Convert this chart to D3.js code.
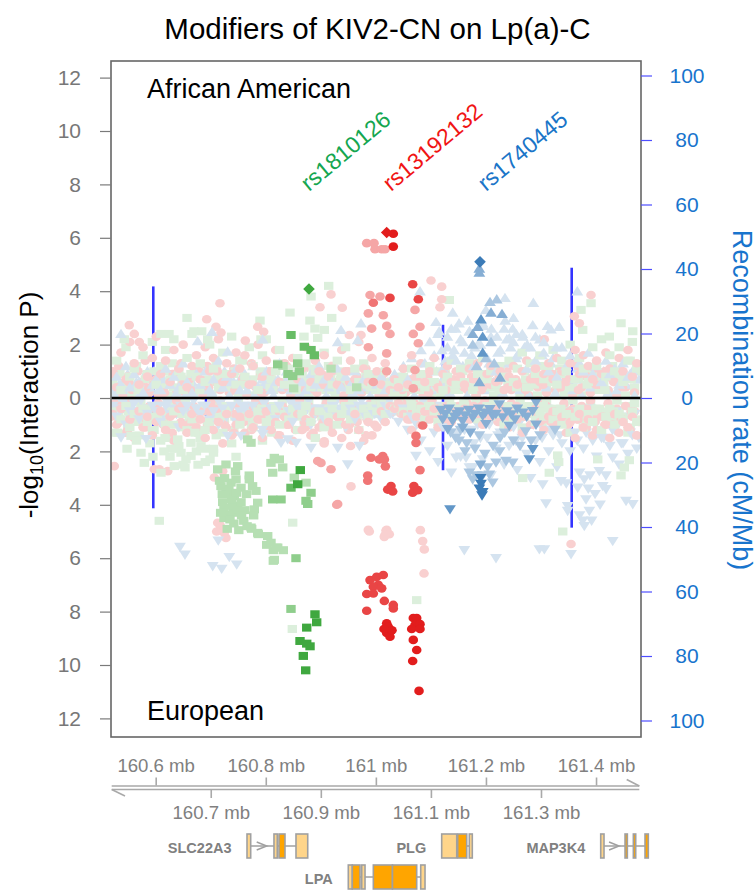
<!DOCTYPE html>
<html><head><meta charset="utf-8">
<script src="https://cdn.jsdelivr.net/npm/d3@7"></script>
<style>body{margin:0;background:#fff} text{font-family:"Liberation Sans",Arial,sans-serif}</style>
</head><body><svg id="c" width="756" height="890"></svg>
<script>
// ---------------- DATA ----------------
const title = "Modifiers of KIV2-CN on Lp(a)-C";
const leftTicks = [-12,-10,-8,-6,-4,-2,0,2,4,6,8,10,12];
const rightTicks = [-100,-80,-60,-40,-20,0,20,40,60,80,100];
const mbTicksTop = [160.6,160.8,161.0,161.2,161.4];
const mbTicksBottom = [160.7,160.9,161.1,161.3];
const snpLabels = [["rs1810126",160.8785,"#14a650"],["rs13192132",161.0275,"#f01414"],["rs1740445",161.2001,"#1a75c8"]];

// SNP positions (Mb) of the background band
const snpPos = [160.522,160.529,160.537,160.546,160.553,160.561,160.570,160.577,160.585,160.594,
160.601,160.609,160.618,160.626,160.633,160.642,160.650,160.657,160.666,160.674,
160.681,160.690,160.698,160.705,160.714,160.722,160.729,160.738,160.746,160.753,
160.762,160.770,160.777,160.786,160.794,160.801,160.810,160.818,160.825,160.834,
160.842,160.849,160.858,160.866,160.873,160.882,160.890,160.897,160.906,160.914,
160.921,160.930,160.938,160.945,160.954,160.962,160.969,160.978,160.986,160.993,
161.002,161.010,161.017,161.026,161.034,161.041,161.050,161.058,161.065,161.074,
161.082,161.089,161.098,161.106,161.113,161.122,161.130,161.137,161.146,161.154,
161.161,161.170,161.178,161.185,161.194,161.202,161.209,161.218,161.226,161.233,
161.242,161.250,161.257,161.266,161.274,161.281,161.290,161.298,161.305,161.314,
161.322,161.329,161.338,161.346,161.353,161.362,161.370,161.377,161.386,161.394,
161.401,161.410,161.418,161.425,161.434,161.442,161.449,161.458,161.466,161.474];
const bandAAgreen = [0.6,1.4,0.3,1.9,0.8,1.1,0.4,1.6,0.9,2.1, 0.5,1.2,1.8,0.7,2.2,1.0,0.3,1.5,2.4,0.8, 1.3,0.6,2.0,1.1,0.4,1.7,0.9,2.3,0.5,1.4, 0.8,1.9,1.2,0.3,1.6,2.2,0.7,1.0,1.8,0.5, 1.1,0.6,1.5,0.9,1.3,0.4,1.0,0.7,1.7,1.2, 0.5,1.4,0.8,1.9,0.3,1.1,0.6,1.3,0.9,0.4, 0.7,0.3,1.0,0.5,0.2,0.6,0.8,0.4,1.1,0.5, 0.9,0.4,1.2,0.6,1.0,0.3,0.8,1.4,0.5,1.1, 0.6,1.3,0.4,0.9,1.5,0.7,1.0,0.5,1.2,0.8, 1.4,0.6,1.1,1.7,0.4,1.3,0.9,1.6,0.7,1.2, 1.8,0.5,1.4,1.0,2.0,0.7,1.5,1.1,0.6,1.9, 1.2,2.2,0.8,1.6,1.0,1.9,0.6,1.4,2.1,1.1];
const bandAAred = [1.0,0.4,1.7,0.7,2.1,1.3,0.5,1.9,0.8,1.5, 2.3,0.9,1.4,0.6,1.8,1.1,2.0,0.4,1.2,1.6, 0.7,1.9,1.0,1.5,2.2,0.6,1.3,0.9,1.7,1.1, 1.6,0.5,1.2,2.0,0.8,1.4,1.0,1.8,0.6,1.3, 0.9,1.5,0.7,1.1,1.9,0.6,1.4,1.0,1.6,0.8, 1.2,0.5,1.8,1.0,1.4,0.7,2.1,1.1,0.6,1.5, 1.0,0.5,1.3,0.3,0.7,0.4,1.1,0.5,1.6,0.9, 1.3,0.6,1.0,1.5,0.4,0.9,1.2,0.6,1.0,0.8, 0.5,1.1,0.7,1.3,0.4,0.9,1.2,0.6,1.0,0.3, 0.8,1.2,0.5,1.0,1.4,0.7,1.1,0.6,0.9,1.3, 0.7,1.5,1.0,0.6,1.3,1.8,0.9,1.6,1.2,0.7, 1.4,0.9,1.7,1.1,0.6,1.5,1.0,1.8,0.8,1.3];
const bandAAblue = [0.3,0.8,0.5,1.2,0.4,0.9,0.6,0.2,1.0,0.5, 0.7,0.3,1.1,0.5,0.8,0.4,1.3,0.6,0.2,0.9, 0.5,1.0,0.3,0.7,1.4,0.4,0.8,0.6,1.1,0.3, 0.9,0.5,1.2,0.4,0.7,1.0,0.3,0.6,1.3,0.5, 0.8,0.4,1.0,0.6,0.3,0.9,0.5,1.2,0.7,0.4, 0.6,1.1,0.4,0.8,0.5,1.0,0.3,0.7,0.9,0.4, 0.5,0.8,0.3,0.6,0.9,0.4,1.2,0.7,1.5,1.0, 1.8,1.3,2.1,1.6,2.4,1.1,1.9,2.6,1.4,2.2, 1.7,2.5,1.2,2.0,2.8,1.5,2.3,1.0,1.8,2.6, 1.3,2.1,1.6,2.4,1.1,1.9,1.4,2.2,1.7,1.0, 1.5,0.8,1.9,1.2,1.6,0.7,1.3,1.0,1.7,0.9, 1.2,0.6,1.4,0.9,1.1,0.5,1.3,0.8,1.0,1.2];
const bandEAgreen = [0.5,1.3,0.8,0.3,1.1,0.6,1.4,0.4,0.9,1.2, 0.7,1.6,1.0,2.2,0.5,1.8,2.5,1.2,0.8,2.0, 1.5,2.4,0.9,1.9,2.7,1.3,0.6,1.7,2.2,1.0, 1.4,0.7,1.1,0.5,1.6,0.9,1.3,0.4,1.0,0.6, 0.8,0.4,1.2,0.6,0.3,0.9,1.5,0.5,1.1,0.7, 0.4,1.0,0.6,0.3,0.8,0.5,1.2,0.4,0.7,0.3, 0.5,0.2,0.6,0.3,0.4,0.2,0.5,0.7,0.3,0.6, 0.4,0.8,0.3,0.5,0.9,0.4,0.6,0.3,0.7,0.5, 0.3,0.6,0.4,0.8,0.5,0.3,0.7,0.4,0.6,1.0, 0.5,0.8,0.4,1.1,0.6,0.3,0.9,0.5,0.7,0.4, 0.8,0.5,1.0,0.6,1.3,0.7,0.4,1.1,0.6,0.9, 0.5,1.2,0.7,0.4,1.0,0.6,0.8,1.3,0.5,0.9];
const bandEAred = [0.6,1.0,0.4,1.3,0.8,1.5,0.5,1.1,0.7,1.4, 0.9,0.5,1.2,0.7,1.6,0.4,1.0,1.3,0.6,1.1, 0.8,1.5,0.5,1.2,0.9,1.7,0.6,1.4,1.0,0.7, 1.3,0.6,1.1,0.8,1.5,0.5,1.2,0.9,1.4,0.7, 1.0,1.6,0.6,1.2,0.8,1.4,0.5,1.1,1.7,0.9, 1.3,0.7,1.5,1.0,1.8,0.6,1.2,1.6,0.9,1.4, 1.1,0.5,0.9,0.3,0.4,0.2,0.6,0.8,1.2,0.7, 1.0,0.5,0.8,0.4,1.1,0.6,0.3,0.9,0.5,0.7, 0.4,0.8,0.3,0.6,1.0,0.5,0.7,0.4,0.9,0.6, 1.1,0.5,0.8,1.3,0.6,1.0,0.4,0.9,1.2,0.7, 0.5,1.0,0.7,1.3,0.9,1.5,0.6,1.1,0.8,1.4, 1.2,0.7,1.0,1.5,0.6,1.3,0.9,1.1,0.7,1.4];
const bandEAblue = [0.3,0.7,0.4,1.0,0.5,0.2,0.8,0.4,0.6,0.3, 0.5,0.9,0.3,0.6,0.4,1.1,0.5,0.3,0.7,0.4, 0.6,0.3,0.8,0.5,1.0,0.4,0.7,0.3,0.9,0.5, 0.4,0.7,0.3,0.6,1.2,0.5,0.4,0.8,0.3,0.6, 0.5,0.9,0.4,0.7,0.3,1.0,0.6,0.4,0.8,0.5, 0.3,0.7,0.5,1.1,0.4,0.8,0.3,0.6,0.9,0.5, 0.4,0.8,0.3,0.6,0.5,0.9,0.4,1.2,0.7,1.0, 1.6,0.9,2.0,1.3,2.4,1.1,1.8,2.8,1.4,2.2, 1.2,2.6,1.7,1.0,2.3,1.5,2.9,1.9,1.3,2.5, 1.8,1.1,2.7,1.5,2.1,3.0,1.6,2.4,1.2,2.0, 1.4,2.6,1.7,3.2,2.0,1.3,2.8,1.9,3.4,1.6, 2.2,1.5,2.9,1.8,1.2,2.5,1.7,2.1,1.4,1.9];

const snpPos2 = [160.526,160.541,160.557,160.573,160.589,160.605,160.622,160.638,160.654,160.669,160.686,160.702,160.717,160.734,160.750,160.766,160.782,160.797,160.814,160.830,160.846,160.862,160.878,160.893,160.910,160.926,160.942,160.958,160.974,160.990,161.006,161.022,161.038,161.054,161.070,161.086,161.102,161.118,161.134,161.150,161.166,161.182,161.198,161.214,161.230,161.246,161.262,161.278,161.294,161.310,161.326,161.342,161.358,161.374,161.390,161.406,161.422,161.438,161.454,161.470];
const lowAAgreen = [0.2,0.5,0.1,0.4,0.3,0.6,0.1,0.3,0.5,0.2, 0.4,0.1,0.6,0.3,0.2,0.5,0.1,0.4,0.3,0.6, 0.2,0.4,0.1,0.5,0.3,0.2,0.6,0.1,0.4,0.3, 0.5,0.2,0.1,0.4,0.3,0.6,0.2,0.1,0.5,0.3, 0.4,0.2,0.6,0.1,0.3,0.5,0.2,0.4,0.1,0.3, 0.6,0.2,0.4,0.1,0.5,0.3,0.2,0.6,0.1,0.4];
const lowAAred = [0.4,0.1,0.3,0.6,0.2,0.1,0.5,0.3,0.2,0.4, 0.1,0.6,0.3,0.2,0.5,0.1,0.4,0.2,0.6,0.3, 0.1,0.5,0.3,0.2,0.4,0.6,0.1,0.3,0.2,0.5, 0.1,0.4,0.3,0.2,0.6,0.1,0.4,0.3,0.2,0.5, 0.3,0.1,0.4,0.6,0.2,0.3,0.5,0.1,0.4,0.2, 0.3,0.6,0.1,0.4,0.2,0.5,0.3,0.1,0.4,0.2];
const lowAAblue = [0.1,0.3,0.5,0.2,0.4,0.3,0.6,0.2,0.1,0.5, 0.3,0.2,0.4,0.1,0.6,0.3,0.2,0.5,0.1,0.4, 0.3,0.2,0.6,0.4,0.1,0.3,0.5,0.2,0.4,0.1, 0.3,0.6,0.2,0.5,0.1,0.4,0.3,0.6,0.2,0.5, 0.1,0.4,0.3,0.6,0.2,0.5,0.3,0.1,0.6,0.4, 0.2,0.5,0.3,0.1,0.4,0.6,0.2,0.3,0.5,0.1];
const lowEAgreen = [0.3,0.1,0.5,0.2,0.4,0.6,0.2,0.3,0.1,0.5, 0.4,0.2,0.3,0.6,0.1,0.4,0.2,0.5,0.3,0.1, 0.6,0.3,0.2,0.4,0.1,0.5,0.3,0.2,0.4,0.6, 0.1,0.3,0.5,0.2,0.4,0.1,0.3,0.6,0.2,0.4, 0.5,0.1,0.3,0.2,0.6,0.4,0.1,0.3,0.5,0.2, 0.4,0.3,0.1,0.6,0.2,0.4,0.5,0.1,0.3,0.2];
const lowEAred = [0.2,0.4,0.1,0.5,0.3,0.2,0.6,0.1,0.4,0.3, 0.5,0.2,0.1,0.4,0.3,0.6,0.1,0.2,0.5,0.3, 0.4,0.1,0.3,0.6,0.2,0.4,0.1,0.5,0.3,0.2, 0.6,0.1,0.4,0.3,0.2,0.5,0.1,0.4,0.6,0.3, 0.2,0.5,0.1,0.4,0.3,0.2,0.6,0.4,0.1,0.3, 0.5,0.2,0.4,0.3,0.1,0.6,0.2,0.4,0.3,0.5];
const lowEAblue = [0.4,0.2,0.3,0.1,0.5,0.3,0.2,0.6,0.4,0.1, 0.3,0.5,0.2,0.4,0.1,0.3,0.6,0.2,0.4,0.5, 0.2,0.3,0.1,0.5,0.4,0.2,0.6,0.3,0.1,0.4, 0.5,0.2,0.3,0.6,0.4,0.1,0.5,0.3,0.7,0.4, 0.6,0.5,0.8,0.4,0.7,0.6,0.9,0.5,0.7,0.4, 0.6,0.8,0.5,0.7,0.4,0.6,0.8,0.5,0.7,0.6];

const snpPos3 = [160.533,160.549,160.565,160.581,160.597,160.614,160.630,160.646,160.661,160.678,160.694,160.710,160.725,160.742,160.758,160.774,160.790,160.806,160.822,160.838,160.854,160.870,160.886,160.902,160.918,160.934,160.950,160.966,160.982,160.998,161.014,161.030,161.046,161.062,161.078,161.094,161.110,161.126,161.142,161.158,161.174,161.190,161.206,161.222,161.238,161.254,161.270,161.286,161.302,161.318,161.334,161.350,161.366,161.382,161.398,161.414,161.430,161.446,161.462,161.478];
const midAAgreen = [0.9,0.5,1.2,0.7,1.0,0.4,1.3,0.8,0.6,1.1, 0.7,1.2,0.5,0.9,1.4,0.6,1.0,0.8,1.3,0.5, 0.9,0.6,1.1,0.4,0.8,1.0,0.5,0.7,0.9,0.4, 0.6,0.3,0.8,0.5,0.4,0.7,0.5,0.9,0.6,1.0, 0.7,0.9,0.5,1.1,0.8,0.6,1.0,0.7,1.2,0.9, 1.1,0.7,1.3,0.9,1.0,0.6,1.2,0.8,1.4,1.0];
const midAAred = [1.2,0.8,1.0,1.4,0.6,1.1,0.9,1.3,0.7,1.0, 1.2,0.6,0.9,1.1,0.7,1.3,0.8,1.0,0.6,1.2, 0.8,1.1,0.7,0.9,1.2,0.6,1.0,0.8,1.1,0.7, 0.9,0.5,0.7,0.4,0.6,0.8,0.5,0.9,0.7,0.6, 0.8,0.5,0.9,0.6,1.0,0.7,0.5,0.8,0.6,0.9, 1.0,0.7,1.2,0.8,1.1,0.9,0.7,1.0,0.8,1.2];
const midAAblue = [0.5,0.9,0.6,0.8,1.0,0.7,0.5,0.9,0.6,0.8, 0.4,0.7,1.0,0.6,0.8,0.5,0.9,0.6,0.7,1.0, 0.5,0.8,0.6,0.9,0.4,0.7,0.5,0.8,0.6,0.9, 0.7,0.5,0.8,0.6,0.9,0.7,1.0,1.4,1.8,1.2, 1.6,2.0,1.3,1.7,2.2,1.5,1.9,1.1,1.6,1.3, 1.0,0.8,1.1,0.9,0.7,1.0,0.8,1.1,0.9,0.7];
const midEAgreen = [0.7,1.0,0.6,0.9,1.2,0.8,1.5,1.1,0.9,1.3, 1.0,1.4,0.8,1.2,0.7,1.0,0.6,0.9,0.5,0.8, 0.6,0.9,0.5,0.7,0.4,0.6,0.5,0.7,0.4,0.6, 0.3,0.5,0.4,0.6,0.3,0.5,0.4,0.7,0.5,0.6, 0.4,0.7,0.5,0.6,0.8,0.5,0.7,0.6,0.9,0.7, 0.6,0.9,0.7,1.0,0.8,0.6,0.9,0.7,1.1,0.8];
const midEAred = [0.9,1.2,0.8,1.1,0.7,1.0,1.3,0.9,1.2,0.8, 1.1,0.7,1.0,1.3,0.9,1.2,0.8,1.1,1.4,1.0, 1.2,0.9,1.3,1.0,1.1,0.8,1.2,0.9,1.4,1.0, 0.7,0.5,0.6,0.8,0.5,0.7,0.6,0.8,0.5,0.7, 0.6,0.8,0.7,0.9,0.6,0.8,0.7,1.0,0.8,0.9, 0.7,1.0,0.8,1.1,0.9,0.7,1.0,0.8,1.2,0.9];
const midEAblue = [0.4,0.6,0.5,0.7,0.4,0.6,0.5,0.3,0.6,0.4, 0.5,0.7,0.4,0.6,0.3,0.5,0.7,0.4,0.6,0.5, 0.3,0.6,0.4,0.5,0.7,0.4,0.6,0.5,0.3,0.6, 0.4,0.6,0.5,0.7,0.5,0.8,0.6,1.0,1.3,0.9, 1.2,1.5,1.0,1.4,1.1,1.6,1.3,1.0,1.5,1.2, 1.4,1.1,1.6,1.3,1.0,1.5,1.2,1.7,1.3,1.5];

const snpPos4 = [160.519,160.535,160.551,160.568,160.583,160.600,160.616,160.632,160.648,160.664,160.680,160.696,160.712,160.728,160.744,160.760,160.776,160.792,160.808,160.824,160.840,160.856,160.872,160.888,160.904,160.920,160.936,160.952,160.968,160.984,161.000,161.016,161.032,161.048,161.064,161.080,161.096,161.112,161.128,161.144,161.160,161.176,161.192,161.208,161.224,161.240,161.256,161.272,161.288,161.304,161.320,161.336,161.352,161.368,161.384,161.400,161.416,161.432,161.448,161.464];
const extraAAred = [0.8,0.3,0.6,1.0,0.4,0.7,0.2,0.9,0.5,0.3, 0.7,0.4,1.0,0.6,0.3,0.8,0.5,0.2,0.9,0.6, 0.4,0.8,0.3,0.7,0.5,1.0,0.4,0.6,0.3,0.8, 0.5,0.2,0.6,0.3,0.7,0.4,0.2,0.5,0.3,0.6, 0.4,0.7,0.3,0.5,0.8,0.4,0.6,0.3,0.7,0.5, 0.9,0.4,0.7,0.3,0.8,0.5,1.0,0.6,0.4,0.8];
const extraAAgreen = [0.4,0.9,0.7,0.3,0.8,0.5,1.0,0.4,0.7,0.9, 0.3,0.6,0.8,0.4,1.0,0.5,0.7,0.9,0.4,0.6, 0.8,0.3,0.6,0.9,0.5,0.3,0.7,0.4,0.6,0.5, 0.3,0.6,0.4,0.2,0.5,0.3,0.6,0.4,0.7,0.3, 0.5,0.3,0.6,0.4,0.3,0.6,0.4,0.7,0.5,0.8, 0.6,0.9,0.4,0.7,0.5,0.8,0.3,0.9,0.6,0.7];
const extraEAred = [0.7,0.3,0.9,0.5,0.8,0.4,1.0,0.6,0.3,0.9, 0.5,0.8,0.4,1.1,0.6,0.9,0.3,0.7,1.0,0.5, 0.8,0.4,1.1,0.6,0.9,0.5,0.7,1.0,0.4,0.8, 0.3,0.6,0.4,0.2,0.5,0.3,0.6,0.4,0.3,0.5, 0.4,0.6,0.3,0.5,0.4,0.7,0.3,0.6,0.5,0.8, 0.6,0.9,0.5,0.8,0.4,0.7,1.0,0.6,0.8,0.5];
const extraEAgreen = [0.3,0.8,0.5,0.9,0.4,0.7,0.5,1.0,0.6,0.8, 0.4,0.9,0.6,0.3,0.7,0.5,0.8,0.4,0.6,0.3, 0.5,0.7,0.3,0.6,0.4,0.2,0.5,0.3,0.6,0.4, 0.2,0.4,0.3,0.5,0.2,0.4,0.3,0.5,0.3,0.4, 0.2,0.5,0.3,0.4,0.6,0.3,0.5,0.4,0.6,0.3, 0.7,0.4,0.6,0.5,0.8,0.4,0.7,0.5,0.9,0.6];

// notable SNPs: [position Mb, -log10 P, LD shade 0-4 (5 = lead SNP)]
const hitsAAgreen = [[160.8785,4.08,5],
[160.9143,4.2,0],[160.8822,3.8,0],[160.6569,3.0,0],[160.7895,2.9,0],[160.8440,3.2,0],[160.8803,2.9,0],[160.9063,2.55,0],[160.9198,3.0,0],[160.8894,2.6,0],[160.8694,2.3,0],[160.6096,2.4,0],[160.6242,2.4,0],[160.6696,2.5,0],[160.6836,2.5,0],[160.5429,2.2,0],[160.6945,2.2,0],[160.7913,2.2,0],[160.8943,2.25,0],
[161.4454,2.8,0],[161.4667,2.5,0],[161.4241,2.3,0],[161.3909,3.55,0],[161.3727,3.3,0],[161.3758,2.55,0],[161.1334,3.67,0],
[160.8458,2.36,3],[160.8700,1.92,3],[160.8822,1.8,3],[160.8882,1.6,3],[160.8580,1.3,2],[160.8217,1.26,2],[160.8489,0.82,2],[160.8609,1.0,2],[160.9185,1.1,1],[160.9652,0.4,1],[160.8507,0.36,1],[160.8313,1.2,1],[160.8404,0.9,2]];
const hitsAAred = [[161.0197,6.2,5],[161.0317,6.15,4],[161.0317,5.67,4],
[160.9834,5.8,1],[160.9966,5.8,1],[160.9984,5.57,1],[161.0106,5.57,1],[161.0166,5.57,1],
[161.0669,4.26,3],[161.1002,4.4,0],[161.1196,4.17,0],[161.0771,3.7,3],[160.7168,3.55,0],[160.9185,3.88,0],[160.8985,3.4,0],
[160.9894,3.86,1],[161.0075,3.8,1],[161.0257,3.75,3],[160.9954,3.57,2],[160.9863,3.17,1],[161.0135,3.1,1],[161.0197,2.7,1],[161.0257,2.4,1],[160.9924,2.6,1],[160.9863,1.9,1],[161.0197,1.67,1],[161.0197,1.0,1],[160.9954,0.6,1],
[161.0711,3.3,1],[161.0802,2.67,1],[161.0680,2.4,1],[161.0771,2.05,1],[161.0711,1.05,1],[161.0680,0.36,1],
[161.1196,3.7,0],[161.1165,3.4,0],[161.3909,3.86,0],[161.3606,3.06,0],[161.3697,2.8,0],[161.3060,2.2,0],
[160.5520,2.73,0],[160.5611,2.4,0],[160.5702,2.1,0],[160.6927,2.95,0],[160.7096,2.67,0],[160.7186,2.45,0],[160.7628,2.15,0],[160.7853,2.67,0],[160.7962,2.48,0],[160.9390,3.38,0],[160.9518,2.36,0],[160.9730,2.36,0]];
const hitsAAblue = [[161.1892,5.1,5],[161.1880,4.85,2],[161.1880,4.7,2],
[161.0802,4.0,0],[161.2074,3.6,1],[161.2196,3.7,1],[161.2346,3.75,0],[161.2861,3.57,0],[161.3660,4.0,0],
[161.2092,3.2,2],[161.2292,3.15,2],[161.1910,2.95,3],[161.1941,2.3,3],[161.1760,2.4,2],[161.1941,1.7,3],[161.1880,0.6,2],[161.2256,0.77,2],[161.2092,2.1,1],[161.1850,2.67,2],
[161.1830,1.2,1],[161.2000,1.5,1],[161.1760,2.0,1],[161.2150,1.3,1],
[161.1396,3.2,0],[161.1093,2.85,0],[161.1511,2.8,0],[161.1669,2.9,0],[161.2486,2.6,0],[161.2850,2.73,0],[161.3182,2.57,0],[161.3333,2.67,0],[161.2668,2.3,0],[161.2424,2.24,0],[161.3273,1.9,0],
[161.1200,1.8,0],[161.1300,2.3,0],[161.1450,2.6,0],[161.1580,2.1,0],[161.1700,2.5,0],[161.1800,1.9,0],[161.1950,2.7,0],[161.2100,2.6,0],[161.2200,2.3,0],[161.2350,2.9,0],[161.2450,1.9,0],[161.2550,2.4,0],[161.2750,2.0,0],[161.2900,2.3,0],[161.3050,2.1,0],[161.3120,2.7,0],[161.1150,2.5,0],[161.1400,1.6,0],[161.2000,3.3,0],[161.2500,3.0,0],
[160.5370,2.4,0],[160.6763,2.13,0],[160.7023,2.48,0],[160.7308,1.74,0],[160.7944,2.2,0],[160.9367,2.55,0],[160.9307,2.1,0],[160.9730,2.8,0],[160.9670,2.17,0]];
const hitsEAgreen = [[160.8458,7.9,2],[160.8894,8.1,4],[160.8925,8.4,4],[160.8744,8.6,4],[160.8622,9.1,4],[160.8744,9.2,4],[160.8804,9.3,4],[160.8682,9.66,4],[160.8725,10.2,4],[160.8482,8.65,0],
[160.8627,2.7,4],[160.8580,3.23,4],[160.8458,3.36,3],[160.8822,3.55,2],[160.8277,3.8,2],[160.8126,3.8,2],[160.8731,3.85,2],[160.8762,3.97,2],[160.8549,6.0,2],
[160.8137,5.7,1],[160.8198,5.6,1],[160.8318,5.7,1],[160.8017,5.5,1],[160.8137,6.1,1],[160.7864,5.1,1],[160.7744,4.9,1],[160.7410,4.3,1],
[160.8155,2.24,1],[160.8246,2.3,1],[160.8094,2.43,1],[160.8308,2.6,1],[160.8126,2.8,1],[160.8518,2.98,1],[160.8731,3.17,1],
[160.7186,3.3,1],[160.7368,3.17,1],[160.7459,3.05,1],[160.7550,3.36,1],[160.7277,3.55,1],[160.7428,3.67,1],[160.7217,3.9,1],[160.7399,4.04,1],[160.7490,4.17,1],[160.7308,4.36,1],[160.7822,3.48,1],[160.7853,3.92,1],[160.7791,4.17,1],[160.7732,4.85,1],[160.7853,5.05,1],[160.8035,5.17,1],[160.8095,5.42,1],[160.8217,5.6,1],[160.8155,6.06,1],[160.7672,1.55,1],[160.7732,1.68,1],[160.7277,2.49,1],[160.7490,2.55,1],[160.7126,2.67,1],[160.7701,3.05,1],
[160.7240,4.5,1],[160.7420,4.7,1],[160.7600,4.6,1],[160.7780,4.4,1],[160.7300,4.9,1],[160.7510,4.95,1],
[160.7160,3.1,1],[160.7250,3.0,1],[160.7330,3.4,1],[160.7210,3.6,1],[160.7380,3.8,1],[160.7470,3.55,1],[160.7550,3.9,1],[160.7620,4.2,1],[160.7650,3.6,1],[160.7240,4.1,1],[160.7350,4.55,1],[160.7180,4.3,1],[160.7560,4.4,1],[160.7660,4.8,1],[160.7700,2.9,1],[160.7760,3.3,1],[160.7450,2.75,1],
[160.6400,1.55,0],[160.6641,1.68,0],[160.6823,1.8,0],[160.6460,2.05,0],[160.6641,2.17,0],[160.6338,2.55,0],[160.6096,2.8,0],[160.5793,2.43,0],[160.5733,2.05,0],[160.5551,1.42,0],[160.5310,1.3,0],[160.6065,4.6,0],[160.8489,4.67,0],[160.6278,1.9,0],[160.6987,2.3,0],[160.6896,1.2,0],[160.6169,1.5,0],[160.6532,2.6,0],[160.6714,1.3,0],[160.5896,1.7,0],
[160.5950,2.2,0],[160.6150,2.0,0],[160.6350,1.9,0],[160.6550,2.3,0],[160.6770,2.5,0],[160.6900,1.9,0],[160.7050,2.05,0],[160.5650,1.6,0],[160.5480,1.9,0],
[161.4031,2.3,0],[161.3304,2.15,0],[161.3322,2.4,0],[161.2668,3.0,0],[161.3151,2.8,0],[161.4454,2.9,0],[161.4514,2.6,0],[161.4605,2.33,0],[161.3395,5.0,0],[161.0742,7.57,0]];
const hitsEAred = [[161.0197,8.44,4],[161.0226,8.57,4],[161.0257,8.76,4],[161.0197,8.8,4],[161.0257,8.94,4],[161.0293,8.7,4],[161.0148,8.65,4],
[161.0680,8.24,4],[161.0742,8.24,4],[161.0711,8.5,4],[161.0802,8.47,4],[161.0651,8.65,4],[161.0802,8.65,4],[161.0680,9.06,4],[161.0742,9.44,4],[161.0669,9.85,4],[161.0784,10.97,4],
[160.9894,6.82,3],[161.0015,6.7,3],[161.0135,6.63,3],[161.0044,7.0,3],[160.9954,7.07,3],[161.0106,7.13,3],[160.9834,7.34,3],[160.9954,7.32,3],[161.0154,7.6,3],[161.0317,7.75,3],[161.0317,7.88,3],[160.9834,7.97,3],
[161.0275,3.3,3],[161.0215,3.43,3],[161.0306,3.5,3],[161.0691,3.3,3],[161.0669,3.55,3],[161.0760,3.45,3],
[161.0126,2.17,2],[161.0064,2.3,2],[161.0155,2.3,2],[161.0173,2.56,2],[161.0802,2.7,2],[161.0729,1.68,2],[161.0729,1.42,2],[161.0851,1.03,2],[160.9852,2.9,2],[160.9852,3.1,2],[160.9912,2.24,2],[160.9289,4.0,1],[160.9307,3.97,1],
[160.8943,2.36,1],[160.9003,2.43,1],[160.9185,2.67,1],
[161.0184,4.96,0],[161.0244,5.1,0],[161.0153,5.2,0],[161.0808,4.95,0],[161.0851,5.36,0],[161.0880,5.67,0],[161.3546,5.47,0],[160.9863,4.94,0],[161.0197,4.94,0],[161.0166,5.13,0],[161.0875,6.57,0],
[160.7126,4.67,0],[160.7186,4.86,0],[160.7246,5.05,0],[160.7277,5.24,0],[160.7168,4.76,0],[160.7108,5.0,0],[160.9881,5.0,0],[160.5248,2.55,0],[160.5975,2.67,0],[160.6065,2.67,0],[160.6218,2.74,0],[160.7065,2.98,0],[160.7217,2.74,0],[160.9548,3.31,0],[160.9063,1.62,0]];
const hitsEAblue = [[161.1910,3.22,4],[161.1880,3.4,4],[161.1941,3.53,4],[161.1929,3.65,4],[161.1901,3.0,4],
[161.1347,4.17,3],[161.2788,2.3,3],[161.2850,1.92,3],
[161.1215,0.8,2],[161.1396,0.86,2],[161.1578,0.86,2],[161.1760,0.73,2],[161.1941,0.67,2],[161.2123,0.67,2],[161.2305,0.73,2],[161.1305,1.17,2],[161.1578,1.11,2],[161.2001,0.98,2],[161.2424,1.05,2],[161.2668,0.55,2],[161.2850,0.49,2],[161.2910,0.17,2],[161.2243,0.24,2],[161.2910,1.0,2],[161.1474,0.6,2],[161.2528,0.8,2],[161.1715,1.3,2],
[161.1180,0.45,2],[161.1260,0.6,2],[161.1330,0.4,2],[161.1430,0.7,2],[161.1520,0.5,2],[161.1620,0.65,2],[161.1690,0.45,2],[161.1800,0.6,2],[161.1870,0.4,2],[161.1990,0.55,2],[161.2070,0.42,2],[161.2180,0.6,2],[161.2380,0.5,2],[161.2460,0.62,2],[161.2570,0.4,2],[161.2740,0.7,2],
[161.1360,1.3,1],[161.1450,1.5,1],[161.1650,1.7,1],[161.1880,1.4,1],[161.2130,1.8,1],[161.2340,1.3,1],[161.2500,1.6,1],[161.2720,1.25,1],[161.2820,1.6,1],[161.1980,2.1,1],[161.2250,2.0,1],[161.1900,2.5,2],[161.2030,2.6,1],[161.1620,2.0,1],[161.1540,1.2,1],
[161.2183,2.42,1],[161.2365,2.36,1],[161.2486,2.42,1],[161.1698,2.8,1],[161.1820,2.9,1],[161.1941,2.9,1],[161.2061,2.87,1],[161.2123,3.17,1],[161.1760,3.05,1],[161.1511,1.6,1],[161.1802,1.9,1],[161.2256,1.5,1],[161.2619,1.8,1],[161.2983,1.4,1],[161.3255,1.2,1],
[161.1607,5.7,0],[161.2183,6.0,0],[161.2970,5.67,0],[161.3061,5.67,0],[161.3546,5.85,0],[161.4303,5.36,0],[161.3091,3.95,0],[161.3485,4.05,0],[161.3485,4.23,0],[161.3758,4.6,0],[161.3787,4.8,0],[161.3878,4.23,0],[161.3818,3.8,0],[161.4122,3.3,0],[161.4182,3.42,0],[161.4545,3.86,0],[161.4667,3.98,0],[161.3667,3.36,0],[161.3787,3.05,0],[161.3031,3.24,0],[161.3364,3.12,0],[161.4303,2.24,0],[161.4060,2.74,0],[161.0729,2.17,0],[161.1456,2.24,0],[161.1638,2.24,0],[161.1760,2.6,0],[161.3891,2.9,0],[161.3982,3.6,0],[161.3700,4.4,0],[161.3920,4.6,0],[161.4073,4.0,0],
[160.5370,1.48,0],[160.5824,1.54,0],[160.7308,1.42,0],[160.7550,1.42,0],[160.7944,1.36,0],[160.8277,1.68,0],[160.8398,1.55,0],[160.8549,1.68,0],[160.8822,1.87,0],[160.9307,1.87,0],[160.9700,1.8,0],[160.9489,2.49,0],[160.6441,5.58,0],[160.6532,5.87,0],[160.7036,6.3,0],[160.7199,6.4,0],[160.7337,5.96,0],[160.7472,6.24,0],[160.7137,5.34,0]];

// recombination rate (cM/Mb) at hotspots: [position, rate]
const recombAA = [[160.5956,34.6],[161.1220,22.7],[161.3558,40.4]];
const recombEA = [[160.5956,34.2],[160.6914,5.6],[161.1220,22.4],[161.3558,40.2]];

// genes
const genes = [
 {name:"SLC22A3",row:0,start:160.7659,end:160.8762,arrow:160.8017},
 {name:"PLG",row:0,start:161.1196,end:161.1752,arrow:null},
 {name:"MAP3K4",row:0,start:161.4085,end:161.4950,arrow:161.4418},
 {name:"LPA",row:1,start:160.9499,end:161.0893,arrow:null}];
// exons: [gene, start, end, coding(1)/UTR(0)]
const exons = [
 ["SLC22A3",160.7659,160.7726,0],["SLC22A3",160.8149,160.8209,0],["SLC22A3",160.8240,160.8349,1],["SLC22A3",160.8549,160.8762,0],
 ["PLG",161.1196,161.1469,0],["PLG",161.1487,161.1651,1],["PLG",161.1698,161.1752,0],
 ["MAP3K4",161.4085,161.4145,0],["MAP3K4",161.4527,161.4569,1],["MAP3K4",161.4678,161.4721,1],["MAP3K4",161.4890,161.4950,1],
 ["LPA",160.9499,160.9572,0],["LPA",160.9572,160.9712,1],["LPA",160.9743,160.9803,0],["LPA",160.9954,161.0302,1],["LPA",161.0302,161.0742,1],["LPA",161.0815,161.0893,0]];

// ---------------- DRAWING ----------------
const svg = d3.select("#c");
const X0=111, X1=641, Y0=61, Y1=737;
const x = d3.scaleLinear().domain([160.5188,161.4817]).range([X0,X1]);
const yP = d3.scaleLinear().domain([-12,12]).range([718.4,77.6]);
const yR = d3.scaleLinear().domain([-100,100]).range([720.5,75.5]);

const pal = {
  green:["#dcefdc","#b6dfb3","#8fce8c","#67bc65","#3fa83f","#3fa83f"],
  red:["#f9d0d0","#f5a6a6","#f07575","#e94545","#e21d1d","#e21d1d"],
  blue:["#d5e3f0","#abc7e1","#86aed4","#6297c8","#3b7bb7","#3b7bb7"]
};
const shapeOf = {green:"sq", red:"ci", blue:"tr"};

svg.append("text").attr("x",377.5).attr("y",39).attr("text-anchor","middle")
  .attr("font-size",29.5).attr("fill","#000").text(title);

svg.append("defs").append("clipPath").attr("id","pc").append("rect")
  .attr("x",X0).attr("y",Y0).attr("width",X1-X0).attr("height",Y1-Y0);
const plot = svg.append("g").attr("clip-path","url(#pc)");

// recombination lines
const recG = plot.append("g");
recombAA.forEach(d=>recG.append("line").attr("x1",x(d[0])).attr("x2",x(d[0]))
  .attr("y1",yR(0)).attr("y2",yR(d[1])).attr("stroke","#3434ff").attr("stroke-width",2.6));
recombEA.forEach(d=>recG.append("line").attr("x1",x(d[0])).attr("x2",x(d[0]))
  .attr("y1",yR(0)).attr("y2",yR(-d[1])).attr("stroke","#3434ff").attr("stroke-width",2.6));

// points
const pts = [];
function band(pos, vals, ser, sign, order){ pos.forEach((p,i)=>pts.push({pos:p,v:vals[i]*sign,ser,shade:0,ord:order+i*3})); }
band(snpPos2, lowAAgreen,"green",1,0); band(snpPos2, lowAAred,"red",1,1); band(snpPos2, lowAAblue,"blue",1,2);
band(snpPos2, lowEAgreen,"green",-1,0); band(snpPos2, lowEAred,"red",-1,1); band(snpPos2, lowEAblue,"blue",-1,2);
band(snpPos3, midAAblue,"blue",1,500); band(snpPos3, midAAgreen,"green",1,501); band(snpPos3, midAAred,"red",1,502);
band(snpPos3, midEAgreen,"green",-1,500); band(snpPos3, midEAblue,"blue",-1,501); band(snpPos3, midEAred,"red",-1,502);
band(snpPos4, extraAAgreen,"green",1,700); band(snpPos4, extraAAred,"red",1,701);
band(snpPos4, extraEAgreen,"green",-1,700); band(snpPos4, extraEAred,"red",-1,701);
band(snpPos, bandAAblue,"blue",1,1000); band(snpPos, bandAAgreen,"green",1,1001); band(snpPos, bandAAred,"red",1,1002);
band(snpPos, bandEAblue,"blue",-1,1000); band(snpPos, bandEAgreen,"green",-1,1001); band(snpPos, bandEAred,"red",-1,1002);
function hits(arr, ser, sign){ arr.forEach((d,i)=>pts.push({pos:d[0],v:d[1]*sign,ser,shade:d[2],ord:2000+i})); }
hits(hitsAAgreen,"green",1); hits(hitsAAred,"red",1); hits(hitsAAblue,"blue",1);
hits(hitsEAgreen,"green",-1); hits(hitsEAred,"red",-1); hits(hitsEAblue,"blue",-1);
pts.sort((a,b)=> (a.shade-b.shade) || (a.ord-b.ord));

function markerPath(d){
  if(d.shade===5) return "M0,-5.8L5.8,0L0,5.8L-5.8,0Z";
  const s = shapeOf[d.ser];
  if(s==="sq") return "M-4.7,-4h9.4v8h-9.4z";
  if(s==="ci") return "M-4.8,0a4.8,4.3 0 1,0 9.6,0a4.8,4.3 0 1,0 -9.6,0";
  return d.v>=0 ? "M0,-5.2L5.9,4.2L-5.9,4.2Z" : "M0,5.2L5.9,-4.2L-5.9,-4.2Z";
}
plot.append("g").selectAll("path").data(pts).join("path")
  .attr("d",markerPath)
  .attr("transform",d=>`translate(${x(d.pos)},${yP(d.v)})`)
  .attr("fill",d=>pal[d.ser][d.shade]);

// zero line
plot.append("line").attr("x1",X0).attr("x2",X1).attr("y1",yP(0)).attr("y2",yP(0))
  .attr("stroke","#000").attr("stroke-width",2.6);

// box
svg.append("rect").attr("x",X0).attr("y",Y0).attr("width",X1-X0).attr("height",Y1-Y0)
  .attr("fill","none").attr("stroke","#666").attr("stroke-width",1.6);

// panel labels
svg.append("text").attr("x",147).attr("y",98).attr("font-size",27).text("African American");
svg.append("text").attr("x",147).attr("y",720).attr("font-size",27).text("European");

// SNP labels
snpLabels.forEach(d=>{
  svg.append("text").attr("transform",`translate(${x(d[1])},${192}) rotate(-40)`)
    .attr("font-size",23).attr("fill",d[2]).text(d[0]);
});

// left axis
const la = svg.append("g").attr("transform",`translate(${X0},0)`)
  .call(d3.axisLeft(yP).tickValues(leftTicks).tickFormat(d=>Math.abs(d)).tickSize(11).tickPadding(19));
la.select(".domain").remove();
la.selectAll(".tick line").attr("stroke","#7a7a7a").attr("stroke-width",1.2);
la.selectAll(".tick text").attr("fill","#777").attr("font-size",21).attr("font-family","Liberation Sans, Arial, sans-serif");

// right axis
const ra = svg.append("g").attr("transform",`translate(${X1},0)`)
  .call(d3.axisRight(yR).tickValues(rightTicks).tickFormat(d=>Math.abs(d)).tickSize(11).tickPadding(23));
ra.select(".domain").remove();
ra.selectAll(".tick line").attr("stroke","#4d4dff").attr("stroke-width",1.2);
ra.selectAll(".tick text").attr("fill","#1874cd").attr("font-size",21).attr("font-family","Liberation Sans, Arial, sans-serif")
  .attr("text-anchor","middle").attr("x",46);

// axis titles
const lt = svg.append("text").attr("transform","translate(37.5,405) rotate(-90)")
  .attr("text-anchor","middle").attr("font-size",26).attr("fill","#000");
lt.append("tspan").text("-log");
lt.append("tspan").attr("font-size",18).attr("dy",5).text("10");
lt.append("tspan").attr("dy",-5).text("(Interaction P)");
svg.append("text").attr("transform","translate(733,400) rotate(90)")
  .attr("text-anchor","middle").attr("font-size",27).attr("fill","#1874cd").text("Recombination rate (cM/Mb)");

// genome axis
const gax = svg.append("g");
const axCol = "#a9a9a9";
gax.append("line").attr("x1",X0+0.7).attr("x2",639.3).attr("y1",786).attr("y2",786).attr("stroke",axCol).attr("stroke-width",1.6);
gax.append("line").attr("x1",X0+0.7).attr("x2",639.3).attr("y1",789.5).attr("y2",789.5).attr("stroke",axCol).attr("stroke-width",1.6);
gax.append("line").attr("x1",639.3).attr("x2",626.7).attr("y1",786).attr("y2",779.5).attr("stroke",axCol).attr("stroke-width",1.6);
gax.append("line").attr("x1",X0+0.7).attr("x2",125).attr("y1",789.5).attr("y2",796).attr("stroke",axCol).attr("stroke-width",1.6);
const fmtMb = d=> (+d.toFixed(1)) + " mb";
const ta = svg.append("g").attr("transform","translate(0,785.5)")
  .call(d3.axisTop(x).tickValues(mbTicksTop).tickFormat(fmtMb).tickSize(8).tickPadding(5.5));
const ba = svg.append("g").attr("transform","translate(0,790)")
  .call(d3.axisBottom(x).tickValues(mbTicksBottom).tickFormat(fmtMb).tickSize(8).tickPadding(7.5));
[ta,ba].forEach(a=>{
  a.select(".domain").remove();
  a.selectAll(".tick line").attr("stroke",axCol).attr("stroke-width",1.6);
  a.selectAll(".tick text").attr("fill","#808080").attr("font-size",18.6).attr("font-family","Liberation Sans, Arial, sans-serif");
});

// gene track
const rowY = [846, 877], boxH = 24;
const gt = svg.append("g");
genes.forEach(g=>{
  const cy = rowY[g.row];
  gt.append("line").attr("x1",x(g.start)).attr("x2",x(g.end)).attr("y1",cy).attr("y2",cy)
    .attr("stroke","#a0a0a0").attr("stroke-width",1.6);
  if(g.arrow){
    const ax = x(g.arrow);
    gt.append("path").attr("d",`M${ax-10},${cy-4}L${ax},${cy}L${ax-10},${cy+4}`)
      .attr("fill","none").attr("stroke","#a0a0a0").attr("stroke-width",1.5);
  }
  gt.append("text").attr("x",x(g.start)-15.5).attr("y",cy+6.5).attr("text-anchor","end")
    .attr("font-size",14.5).attr("font-weight","bold").attr("fill","#808080").text(g.name);
});
exons.forEach(e=>{
  const g = genes.find(q=>q.name===e[0]);
  const cy = rowY[g.row];
  gt.append("rect").attr("x",x(e[1])).attr("y",cy-boxH/2).attr("width",x(e[2])-x(e[1])).attr("height",boxH)
    .attr("fill",e[3]?"#ffa500":"#ffd58a").attr("stroke","#a0a0a0").attr("stroke-width",1.6);
});
</script></body></html>
